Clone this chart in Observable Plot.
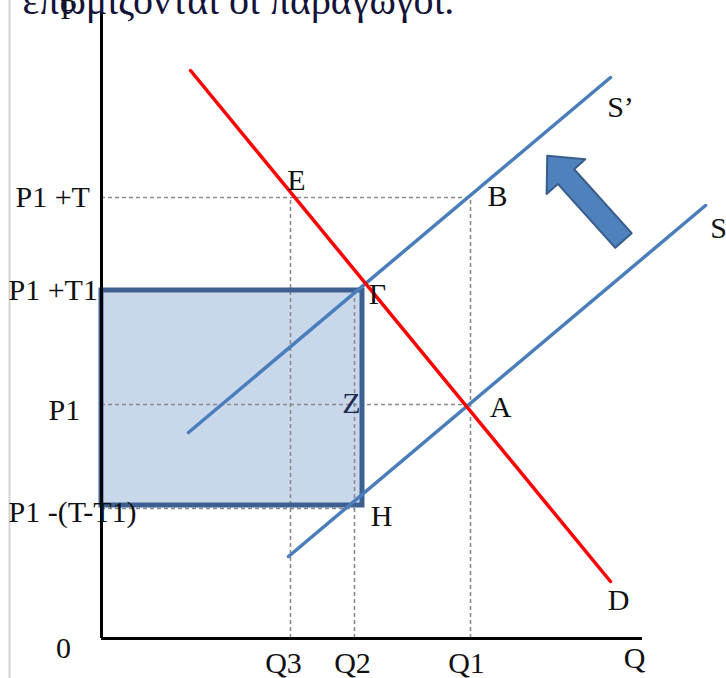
<!DOCTYPE html>
<html><head><meta charset="utf-8">
<script src="https://cdn.jsdelivr.net/npm/d3@7"></script>
<script src="https://cdn.jsdelivr.net/npm/@observablehq/plot@0.6"></script>
<style>html,body{margin:0;padding:0;background:#fff;overflow:hidden}</style>
</head><body><div id="chart"></div>
<script>
// ---- data (abstract quantity / price units, origin at 0,0) ----
const quantityLabels = ["Q3", "Q2", "Q1"];
const quantityValues = [189, 253, 369];
const priceLabels = ["P1 +T", "P1 +T1", "P1", "P1 -(T-T1)"];
const priceValues = [441, 348, 234, 130];
const demandD = [[89, 568], [509, 57]];
const supplyS = [[187, 82], [604, 433]];
const supplyS2 = [[87, 206], [509, 561]];
const burdenBox = [{q0: 0, q1: 261, p0: 133, p1: 348}];
const pointNames = ["E", "B", "Γ", "Z", "A", "H"];
const pointQ = ["Q3", "Q1", "Q2", "Q2", "Q1", "Q2"];
const pointP = ["P1 +T", "P1 +T", "P1 +T1", "P1", "P1", "P1 -(T-T1)"];
const curveNames = ["S’", "S", "D"];
const arrowTail = [{q: 522, p: 398}];
const titleText = "επωμίζονται οι παραγωγοί.";

// ---- layout (label offsets in px; one scale unit = one px) ----
const priceLabelLeft = [-86, -93, -53, -93];
const priceLabelDy = [0, 0, 6, 4];
const quantityLabelDx = [-7, -2, -4];
const pointDx = [6, 27, 23, -3, 30, 27];
const pointDy = [-17, -1, 4, -1, 3, 8];
const curveDx = [10, 13, 8];
const curveDy = [30, 23, 19];

const qOf = Object.fromEntries(quantityLabels.map((l, i) => [l, quantityValues[i]]));
const pOf = Object.fromEntries(priceLabels.map((l, i) => [l, priceValues[i]]));

const hGuides = [
  {p: pOf["P1 +T"], q: qOf["Q1"]},
  {p: pOf["P1 +T1"], q: qOf["Q2"]},
  {p: pOf["P1"], q: qOf["Q1"]},
  {p: pOf["P1 -(T-T1)"], q: qOf["Q2"]}
];
const vGuides = [
  {q: qOf["Q3"], p: pOf["P1 +T"]},
  {q: qOf["Q2"], p: pOf["P1 +T1"]},
  {q: qOf["Q1"], p: pOf["P1 +T"]}
];
const priceTable = priceLabels.map((l, i) => ({l, p: priceValues[i], left: priceLabelLeft[i], dy: priceLabelDy[i]}));
const quantityTable = quantityLabels.map((l, i) => ({l, q: quantityValues[i], dx: quantityLabelDx[i]}));
const pointTable = pointNames.map((n, i) => ({n, q: qOf[pointQ[i]], p: pOf[pointP[i]], dx: pointDx[i], dy: pointDy[i]}));
const curveEnds = [supplyS2[1], supplyS[1], demandD[1]];
const curveTable = curveNames.map((n, i) => ({n, q: curveEnds[i][0], p: curveEnds[i][1], dx: curveDx[i], dy: curveDy[i]}));

const blockArrow = {
  draw(ctx, l) {
    const sw = 11, hw = 26, hl = 28;
    ctx.moveTo(-sw, 0);
    ctx.lineTo(-sw, -l + hl);
    ctx.lineTo(-hw, -l + hl);
    ctx.lineTo(0, -l);
    ctx.lineTo(hw, -l + hl);
    ctx.lineTo(sw, -l + hl);
    ctx.lineTo(sw, 0);
    ctx.closePath();
  }
};

const font = "Liberation Serif";
const fs = 30;
const dash = {stroke: "#8a8a8a", strokeWidth: 1.6, strokeDasharray: "4,3"};
const blue = "#4a7ebb";

const chart = Plot.plot({
  width: 726,
  height: 678,
  margin: 0,
  x: {domain: [-101, 625], axis: null},
  y: {domain: [-40, 638], axis: null},
  marks: [
    Plot.ruleX([-92], {stroke: "#d4d4d4", strokeWidth: 2}),
    Plot.rect(burdenBox, {x1: "q0", x2: "q1", y1: "p0", y2: "p1", fill: "#c9d7eb"}),
    Plot.ruleY(hGuides, {y: "p", x1: 0, x2: "q", ...dash}),
    Plot.ruleX(vGuides, {x: "q", y1: 0, y2: "p", ...dash}),
    Plot.rect(burdenBox, {x1: "q0", x2: "q1", y1: "p0", y2: "p1", fill: "none", stroke: "#3d6090", strokeWidth: 5}),
    Plot.ruleX([0], {y1: 0, y2: 628, stroke: "#000", strokeWidth: 3}),
    Plot.ruleY([0], {x1: 0, x2: 541, stroke: "#000", strokeWidth: 3}),
    Plot.line(supplyS, {x: d => d[0], y: d => d[1], stroke: blue, strokeWidth: 3.5}),
    Plot.line(supplyS2, {x: d => d[0], y: d => d[1], stroke: blue, strokeWidth: 3.5}),
    Plot.line(demandD, {x: d => d[0], y: d => d[1], stroke: "#ff0000", strokeWidth: 3.5}),
    Plot.vector(arrowTail, {x: "q", y: "p", length: 114, rotate: -42, anchor: "start", shape: blockArrow,
      fill: "#4f81bd", stroke: "#385d8a", strokeWidth: 2}),
    Plot.text(priceTable, {x: "left", y: d => d.p - d.dy, text: "l", textAnchor: "start", lineAnchor: "middle",
      fontFamily: font, fontSize: fs, fill: "#111"}),
    Plot.text(quantityTable, {x: d => d.q + d.dx, y: -25, text: "l", lineAnchor: "middle",
      fontFamily: font, fontSize: fs, fill: "#111"}),
    Plot.text(["0"], {x: -38, y: -10, text: d => d, lineAnchor: "middle", fontFamily: font, fontSize: fs, fill: "#111"}),
    Plot.text(["Q"], {x: 533, y: -20, text: d => d, lineAnchor: "middle", fontFamily: font, fontSize: fs, fill: "#111"}),
    Plot.text(["P"], {x: -33, y: 629, text: d => d, lineAnchor: "middle", fontFamily: font, fontSize: fs, fill: "#111"}),
    Plot.text(pointTable, {x: d => d.q + d.dx, y: d => d.p - d.dy, text: "n", lineAnchor: "middle", fontFamily: font, fontSize: fs,
      fill: d => d.n === "Z" ? "#1f2c50" : "#111"}),
    Plot.text(curveTable, {x: d => d.q + d.dx, y: d => d.p - d.dy, text: "n", lineAnchor: "middle", fontFamily: font, fontSize: fs, fill: "#111"}),
    Plot.text([titleText], {frameAnchor: "top-left", text: d => d, textAnchor: "start", lineAnchor: "middle",
      dx: 22, dy: 1, fontFamily: font, fontSize: 40, fill: "#14143a"})
  ]
});
document.getElementById("chart").appendChild(chart);
</script></body></html>
